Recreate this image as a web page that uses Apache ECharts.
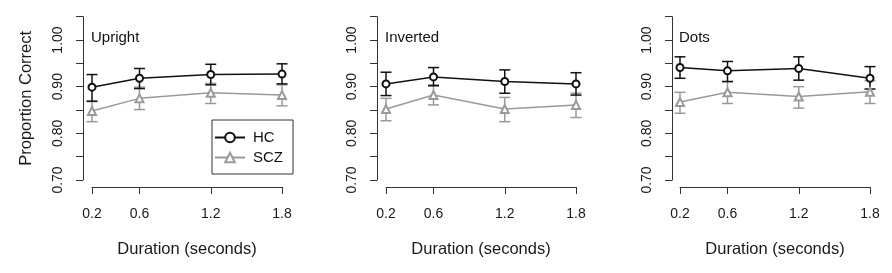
<!DOCTYPE html>
<html>
<head>
<meta charset="utf-8">
<script src="https://cdn.jsdelivr.net/npm/echarts@6/dist/echarts.min.js"></script>
<style>
  html, body { margin: 0; padding: 0; background: #fff; }
  #chart { width: 892px; height: 273px; }
</style>
</head>
<body>
<div id="chart"></div>
<script>
// durations on the x axis (seconds)
const durations = [0.2, 0.6, 1.2, 1.8];
const panelNames = ['Upright', 'Inverted', 'Dots'];
const yTicks = [0.70, 0.75, 0.80, 0.85, 0.90, 0.95, 1.00, 1.05];
const yLabels = [0.70, 0.80, 0.90, 1.00];

// one row per panel: Upright, Inverted, Dots
const hcMean = [
  [0.899, 0.918, 0.926, 0.927],
  [0.906, 0.921, 0.911, 0.906],
  [0.941, 0.934, 0.939, 0.918]
];
const hcLow = [
  [0.869, 0.896, 0.904, 0.906],
  [0.881, 0.902, 0.886, 0.882],
  [0.918, 0.911, 0.914, 0.895]
];
const hcHigh = [
  [0.926, 0.939, 0.948, 0.949],
  [0.931, 0.941, 0.936, 0.930],
  [0.964, 0.954, 0.964, 0.943]
];
const sczMean = [
  [0.848, 0.875, 0.887, 0.882],
  [0.852, 0.882, 0.852, 0.861],
  [0.867, 0.888, 0.879, 0.889]
];
const sczLow = [
  [0.825, 0.851, 0.864, 0.859],
  [0.827, 0.861, 0.825, 0.834],
  [0.843, 0.864, 0.854, 0.864]
];
const sczHigh = [
  [0.868, 0.899, 0.907, 0.904],
  [0.875, 0.904, 0.877, 0.886],
  [0.888, 0.911, 0.900, 0.913]
];

const FONT = 'Liberation Sans, Arial, sans-serif';
const BLACK = '#111';
const GRAY = '#9a9a9a';
const AXIS = '#333';
const gridLefts = [92, 386, 680];
const yOffsets = [9, 9, 8];

const chart = echarts.init(document.getElementById('chart'), null, { renderer: 'canvas' });

function errorBars(color) {
  return function (params, api) {
    const x = api.value(0);
    const lo = api.coord([x, api.value(1)]);
    const hi = api.coord([x, api.value(2)]);
    const w = 5.5;
    const style = { stroke: color, lineWidth: 1.5, fill: null };
    return {
      type: 'group',
      children: [
        { type: 'line', shape: { x1: lo[0], y1: lo[1], x2: hi[0], y2: hi[1] }, style: style },
        { type: 'line', shape: { x1: lo[0] - w, y1: lo[1], x2: lo[0] + w, y2: lo[1] }, style: style },
        { type: 'line', shape: { x1: hi[0] - w, y1: hi[1], x2: hi[0] + w, y2: hi[1] }, style: style }
      ]
    };
  };
}

const grids = [], xAxes = [], yAxes = [], series = [], titles = [];

panelNames.forEach((name, i) => {
  grids.push({ left: gridLefts[i], width: 190, top: 16.7, height: 163.3 });

  xAxes.push({
    gridIndex: i, type: 'value', min: 0.2, max: 1.8, offset: 7,
    name: 'Duration (seconds)', nameLocation: 'middle', nameGap: 54,
    nameTextStyle: { fontFamily: FONT, fontSize: 16.5, color: '#1a1a1a' },
    axisLine: { show: true, lineStyle: { color: AXIS, width: 1 } },
    axisTick: { show: true, length: 7, customValues: durations, lineStyle: { color: AXIS } },
    axisLabel: { customValues: durations, margin: 20, fontFamily: FONT, fontSize: 14, color: '#1a1a1a',
      formatter: v => String(v) },
    splitLine: { show: false }
  });

  yAxes.push({
    gridIndex: i, type: 'value', min: 0.7, max: 1.05, interval: 0.05, offset: yOffsets[i],
    name: i === 0 ? 'Proportion Correct' : '', nameLocation: 'middle', nameGap: 48,
    nameTextStyle: { fontFamily: FONT, fontSize: 16.5, color: '#1a1a1a' },
    axisLine: { show: true, lineStyle: { color: AXIS, width: 1 } },
    axisTick: { show: true, length: 7, customValues: yTicks, lineStyle: { color: AXIS } },
    axisLabel: { customValues: yLabels, rotate: 90, margin: 18, fontFamily: FONT, fontSize: 14, color: '#1a1a1a',
      formatter: v => v.toFixed(2) },
    splitLine: { show: false }
  });

  titles.push({
    text: name, left: gridLefts[i] - 1, top: 30, padding: 0,
    textStyle: { fontFamily: FONT, fontSize: 15, fontWeight: 'normal', color: '#111' }
  });

  series.push({
    name: 'SCZ', type: 'line', xAxisIndex: i, yAxisIndex: i,
    data: durations.map((d, k) => [d, sczMean[i][k]]),
    symbol: 'emptyTriangle', symbolSize: 8, color: GRAY, clip: false,
    lineStyle: { width: 1.5, color: GRAY }, itemStyle: { borderWidth: 1.3 }
  });
  series.push({
    name: 'SCZ bars', type: 'custom', xAxisIndex: i, yAxisIndex: i,
    data: durations.map((d, k) => [d, sczLow[i][k], sczHigh[i][k]]),
    encode: { x: 0, y: [1, 2] }, renderItem: errorBars(GRAY), silent: true
  });
  series.push({
    name: 'HC', type: 'line', xAxisIndex: i, yAxisIndex: i,
    data: durations.map((d, k) => [d, hcMean[i][k]]),
    symbol: 'emptyCircle', symbolSize: 7, color: BLACK, clip: false,
    lineStyle: { width: 1.5, color: BLACK }, itemStyle: { borderWidth: 1.3 }
  });
  series.push({
    name: 'HC bars', type: 'custom', xAxisIndex: i, yAxisIndex: i,
    data: durations.map((d, k) => [d, hcLow[i][k], hcHigh[i][k]]),
    encode: { x: 0, y: [1, 2] }, renderItem: errorBars(BLACK), silent: true
  });
});

const option = {
  animation: false,
  backgroundColor: '#fff',
  title: titles,
  legend: {
    data: ['HC', 'SCZ'], orient: 'vertical', left: 212, top: 120,
    padding: [10, 10, 9, 2], itemWidth: 30, itemHeight: 12, itemGap: 5,
    borderColor: AXIS, borderWidth: 1, borderRadius: 0,
    textStyle: { fontFamily: FONT, fontSize: 15, color: '#111', padding: [0, 0, 0, 3] }
  },
  grid: grids,
  xAxis: xAxes,
  yAxis: yAxes,
  series: series
};
chart.setOption(option);
</script>
</body>
</html>
